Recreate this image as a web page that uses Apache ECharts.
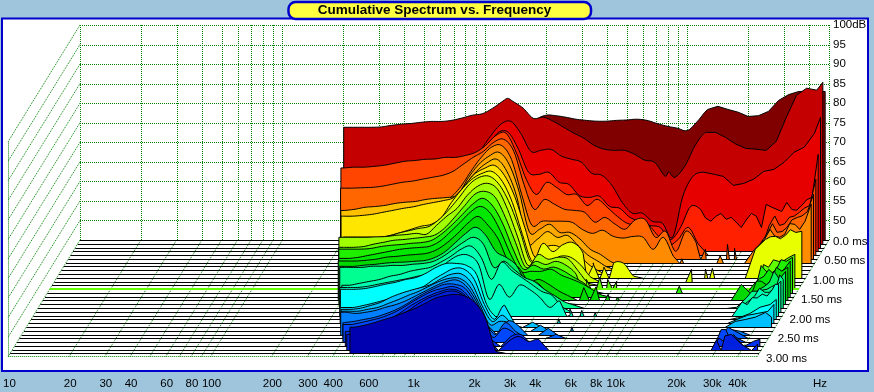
<!DOCTYPE html>
<html><head><meta charset="utf-8">
<style>html,body{margin:0;padding:0;background:#9FC5DC}#c{width:874px;height:392px}</style>
<script src="https://cdn.jsdelivr.net/npm/echarts@6/dist/echarts.min.js"></script>
</head><body><div id="c"></div>
<script>
const title = 'Cumulative Spectrum vs. Frequency';
const freqTicks = [10,20,30,40,60,80,100,200,300,400,600,1000,2000,3000,4000,6000,8000,10000,20000,30000,40000];
const gridHz = [10,20,30,40,50,60,70,80,90,100,200,300,400,500,600,700,800,900,1000,2000,3000,4000,5000,6000,7000,8000,9000,10000,20000,30000,40000,50000];
const gridDb = [50,55,60,65,70,75,80,85,90,95,100];
const timeSlices = [0,5,10,15,20,25,30];
const timeLabels = ['0.0 ms','0.50 ms','1.00 ms','1.50 ms','2.00 ms','2.50 ms','3.00 ms'];
const hz = [200,224,251,282,316,355,398,447,501,562,631,708,794,891,1000,1122,1259,1413,1585,1778,1995,2239,2512,2818,3162,3548,3981,4467,5012,5623,6310,7079,7943,8913,10000,11220,12589,14125,15849,17783,19953,22387,25119,28184,31623,35481,39811,44668,47863];
const sliceColors = ['#800000','#C40000','#E60000','#FF2000','#FF4500','#FF6600','#FF8C00','#FFA800','#FFC000','#FFE600','#E8FF00','#C8FF00','#A0FF00','#60FF00','#20F000','#00E800','#00D800','#00F060','#00FF90','#00FFB0','#00FFC8','#00FFFF','#00E0FF','#00C0FF','#00A0FF','#0080FF','#0060FF','#0048FF','#0030F0','#0020E0','#0000B0'];
const sliceStartHz = [210,206,230,230,216,221,235,240,240,247,260,270,261,268,275,282,288,298,309,325,326,337,345,358,370,376,396,407,429,448,477];
const s00={1:[70,70,70,70,70,70,70,70,70,70,70,70,70,70,70,70,70,70],19:[75.4,76.9,76.8,76.4,75.9,75.6,75.4,75.4,75.6,75.7,75.9,75.6,74.8,74.1,73.6],34:[73,75.4,78.4,79.2,78.4,77.7,76.6,76.8,77.9,80.7,82.2,83,83,83,83]};
const s01={1:[74.8,74.8,74.8,74.9,75.3,75.6,75.8,76.1,76.3,76.3,76.6,77.2,77.9,78.3,79.7,81.5,81.4,79.7,77.1],20:[77.4,76.3,74.8,73.3,72,70.2,69.2,68.9,68.9,67.9,66.4,65.8,62.3,62],34:[65,70.2,73.5,73.5,72.2,70.5,69.4,69.2,68.9,71.2,77.4,83,84.8,84.3,86.3]};
const s02={2:[64.5,64.5,64.5,64.5,64.5,64.5,66.5,66.5,66.5,66.5,66.5],13:[67.6,69.9,73.5,76.5,77.3,74.2,69.6,69.9,70.1,68.4,67.6,66.8,64,63.5,60.9,56.6,53.8,53.8,51.7,51.2,47.6],34:[58.1,63.2,64.3,63.8,63.2,60.9,61.4,62.5,64.5,65,66.8,69.4,70.7,74.2,78.3]};
const s03={2:[64.7,64.7,64.7,64.7,64.7,64.7,65.5,65.5,65.5,65.5,65.5],13:[66.5,69.3,71.9,75.4,75.4,71.1,65.2,64.7,65.2,62.7,62.1,59.3,58.8,59.1,56.5,56,53.7,52.7,51.6,51.1,48],34:[51.1,56.5,55.7,52.7,54.7,53.7,51.1,54.7,51.1,56.3,55.2,55.7,56.8,58.8,69.8]};
const s04={1:[67.3,67.5,67.5,67.7,68,68.5,69,69.2,69.5,69.6,70,70,70.5,71.3,73.1,75.6,76.2,71.3,64.4],20:[60.5,63.6,62.3,60.5,60.5,57.7,59.3,57.2,54.9,53.1,52.8,52.8,50,47.5],34:[49,52.1,47.8],43:[52.6,52.6,54.7,56,57.7,64.4]};
const s05={1:[63.1,63.1,63.2,63.3,63.6,64.1,64.6,64.9,65.4,65.9,66.4,67.4,69.2,71,72.5,74.8,75.6,72.5,64.1],20:[57.7,60.2,59,57.7,57.4,56.9,54.4,55.6,53.9,52.6,55,55,50.5,52.1],34:[46.9,52.1,49.2],42:[47.5,51.3,51.8,53.1,55.6,57.1,61.5]};
const s06={2:[57.4,57.4,57.4,57.6,58.1,58.7,59.2,59.7,59.9,60.4,61.7,64.5,68.4,71.9,74.5,75,71.4,62.5],20:[54.6,55.6,55.6,55.6,55.3,53.5,52.5,53.3,51.8,51.3,51.7,51.5,48.4,51.5],34:[46.6],42:[48.4,51,51.8,52.3,54.8,55.6,60]};
const s07={2:[58.4,58.4,58.4,58.4,58.4,58.4,58.4,58.9,59.1,59.6,60.9,63.5,67.8,71.1,73.2,74.2,71.1,64],20:[53.8,54.5,55.8,53.7,53.7,52,49.4,48.1,46.3]};
const s08={1:[60.3,60.3,60.6,61.1,61.3,61.6,62.1,62.4,62.6,63.1,63.4,63.6,64.1,67.2,70.3,72.4,73.4,70.3,63.6],20:[52.1,52.9,54.9,53.4,53.9,51.4,48.9,47.3,45.7]};
const s09={2:[59.8,59.8,60,60.3,60.8,61.3,61.8,62.2,62.8,63.3,63.8,64.6,67.4,70.5,72,72.8,70.2,64.9],20:[57,49.3,51.8,52.3,51.3,51.3,48.2,46.2]};
const s10={3:[55.4,55.4,55.4,55.4,55.9,56.6,57.4,58.2,58.7,60.4,64.3,67.6,70.2,71.7,72.2,69.7,64.3],20:[56.1,49.2,53.8,51.7,53.5,54,51.2,48.2,47.2,48.7,48.7,45.4],43:[52.3,54.8,55.6,55.9,56.6,56.9]};
const s11={3:[56.3,56.3,56.3,56.3,56.6,57.4,58,58.6,59.1,60.9,63.5,66.6,69.9,71.7,71.9,69.6,64.8],20:[57.9,50.2,51.2,50.2,51.5,51.2,49.2,46.1]};
const s12={3:[57.3,57.3,57.3,57.4,57.5,57.8,58,58.3,58.1,60.4,62.7,64.7,68,70.3,71.1,69.6,64.4],20:[57.3,50.1,52.9,51.7,52.2,51.7,48.6,45.5]};
const s13={3:[55.7,55.7,55.9,56.5,57,57.5,57.7,58,58.3,58.8,60.6,63.4,66.4,69.3,70,68.5,63.4],20:[57,50.6,52.1,51.3,52.1,51.1,48.8,46.2],45:[50.6,52.1,53.1,53.9]};
const s14={4:[56.2,56.2,56.4,56.9,57.2,57.4,57.7,57.9,58.5,60.2,62.5,65.1,67.7,69.2,67.2,62.6],20:[56.2,51.1,52.1,51.1,51.6,50.6,49,47.5,45.4],44:[46.7,50.5,51,53.1,54.1]};
const s15={4:[54.8,55.1,55.6,56.1,56.6,57.1,57.4,57.6,57.9,59.2,61.5,64,66.6,68.1,66.3,61.7],20:[55.8,51.5,51.5,51.5,52,50.5,49.5,48.4,46.9,45.4],44:[48.2,50.2,50.7,52,54.1]};
const s16={4:[55.1,55.1,55.3,55.6,56.1,56.3,56.6,56.8,57.1,58.1,59.9,62.2,64.8,66.5,64.2,60.7],20:[55,53.5,49.9,50.4,49.1,47.4,46.1],43:[49.1,46.6,49.9,50.4,52.5,53.5]};
const s17={4:[54.7,54.7,55,55.2,55.5,55.7,55.8,56,56.2,57,58.5,60.8,63.1,64.7,62.6,58.5],20:[57,55,50.6,50.6,48.3,46.8,45.2],44:[46.3,48.8,50.6,51.4,53.4]};
const s18={4:[55.4,55.4,55.4,55.7,55.7,55.9,55.9,56.2,56.4,56.9,58.2,60,61.8,63.1,61.3,55.4],20:[57,54.9,52.9,51.8,49.8,48.2,46.6,45.7],43:[45.2,47.7,49.3,49.8,51.1,52.3]};
const s19={5:[51.8,52.3,52.8,53.3,54.1,54.6,55.4,55.9,56.4,57.7,59.2,61,61.8,58.9,53.3],20:[57.7,55.6,53.8,52,50.2,49.2,46.2],44:[46.9,49,50,51.3,52.8]};
const s20={5:[52.2,52.2,52.5,53,53.5,54,54.5,55.1,55.6,56.8,58.9,60.4,60.4,57.9,49.2],20:[53,49.7,52.8,51.7,49.7,47.1,48.7,45.1],44:[48.5,49.6,50.5,51.7,53]};
const s21={5:[52.7,52.7,52.9,53.4,54,54.5,55.2,55.7,56.8,58.3,59.3,59.3,58.8,56.5,48.8,45.5],44:[45.5,46.5,48.1,48.8,50.1]};
const s22={6:[49,49.5,50.1,50.8,51.6,52.6,53.4,54.4,56.2,57.7,59,58.8,56.2,49.8,46,49.6],44:[46,47,47.5,48,49.8]};
const s23={6:[49.5,49.8,50.5,51.3,52.6,53.6,54.4,55.1,55.9,57.4,58.5,58.5,56.1,50.5,46.4,48,45.7,45,46.2],44:[46.4,46.9,47.5,48.7,47.5]};
const s24={6:[50,50,50.5,51,52,53,54.1,55.1,56.4,57.6,58.4,58.4,56.4,51.7,46.6,47.4,46.9,45,45,46.4]};
const s25={6:[50.7,50.4,50.7,51.2,52,52.7,53.7,55,56.3,57.6,58.6,58.9,57.1,53,47.4,45,48.4,47.4,45,45,46.6],44:[46.3,45.8]};
const s26={6:[49,49.3,49.8,50.3,51.1,52.1,53.4,55,56.5,57.8,58.8,58.8,57.8,54.2,49.3,46,49,46.8,45,45,45,46],44:[47.8,46.4]};
const s27={7:[49.5,50,50.6,51.3,52.3,53.6,55.2,56.7,58,58.7,59.2,58.2,55.2,50.8,46.2,48.5,47.5],44:[48.2,46.2]};
const s28={7:[48.7,49.2,49.7,50.5,51.8,53.3,55.1,56.6,57.9,58.9,59.5,58.9,56.4,51.8,46.7,45,47.4,47.9,45.6],44:[46.2,47.9,45,46.2,46.7]};
const s29={7:[48.7,48.9,49.4,50.2,51.5,53.3,54.8,56.6,58.1,59.1,59.9,59.7,57.6,53.5,47.6,45,47.1,48.4,47.1,47.6,45],45:[48.9,46.4,45,46.4]};
const s30={8:[51.7,52.2,52.9,53.7,54.5,55.5,56.5,57.8,59.1,59.8,60.1,59.6,57.8,53.7,45.5]};
const sliceData = [s00,s01,s02,s03,s04,s05,s06,s07,s08,s09,s10,s11,s12,s13,s14,s15,s16,s17,s18,s19,s20,s21,s22,s23,s24,s25,s26,s27,s28,s29,s30];
// isolated peaks rising from a slice's floor: [slice, Hz, dB]
const spikes = [[5,14000,47.5],[5,18000,48.7],[5,19500,47.7],[6,17000,46.8],[6,11000,46],[10,16000,47.2],[10,17300,47.4],[10,4470,48.5],[10,5060,47.6],[11,14000,48.1],[13,4470,47.5],[13,5200,48],[13,5700,47.5],[13,6300,47],[14,13200,46.7],[16,4700,48.3],[16,5400,48.5],[16,6200,46.6],[16,6900,45.9],[20,4470,46.7],[20,5100,46.3],[20,5950,45.8],[22,4150,45.9],[24,5060,46]];
// extra readings between the shared frequencies: [slice, Hz, dB]
const ripples = [[1,1330,82.2],[1,8300,63.4],[3,13300,53.5],[3,15000,54],[3,16800,53.2],[3,18800,52.5],[3,21100,53],[3,23700,54],[3,26500,57],[3,33500,57.5],[3,37500,55.5],[3,42000,58.2],[4,30000,55],[4,33500,53],[4,37500,55],[4,42000,57],[5,27000,50],[5,30000,54],[5,33500,52],[5,37500,55],[5,42000,56],[6,30000,53.5],[6,33500,51.5],[6,37500,55],[6,42000,53.5],[10,33500,55.5],[10,37500,55],[10,42000,57.3],[13,33500,51.3],[13,37500,52.5],[13,42000,52.2],[14,33500,52],[14,37500,50],[14,42000,53.5],[15,33500,49.5],[15,37500,52],[15,42000,51],[16,33500,50],[16,37500,49],[16,42000,53.5],[17,37500,49.5],[17,42000,53.5],[18,33500,49.3],[18,42000,50.5],[18,46000,53.5],[19,37500,51],[19,42000,50],[20,33500,47.8],[20,37500,49.5],[20,42000,50],[20,46000,53],[27,30000,48.2],[27,33000,46],[28,30000,47],[28,33500,46],[29,30000,47.5],[29,33000,48.5]];

const DX = 2.33, DY = 3.78, FRAME = 30.8;
const font = 'Liberation Sans, Arial, sans-serif';
function pr(api, f, db, i){ const p = api.coord([f, db]); return [p[0]-DX*i, p[1]+DY*i]; }
function crisp(v){ return Math.round(v)+0.5; }
function slicePoints(i){
  const run = sliceData[i], pts = [];
  const keys = Object.keys(run).map(Number);
  const vals = {};
  keys.forEach(k => run[k].forEach((v,j) => { vals[k+j] = v; }));
  const first = Math.min(...keys);
  for (let k = first; k < hz.length; k++) pts.push([hz[k], vals[k] === undefined ? 45 : Math.max(vals[k],45)]);
  spikes.filter(s => s[0]===i).forEach(s => {
    const w = 1 + 0.022*(s[2]-45);
    pts.push([s[1]/w,45],[s[1],s[2]],[s[1]*w,45]);
  });
  ripples.filter(s => s[0]===i).forEach(s => pts.push([s[1],s[2]]));
  pts.sort((a,b)=>a[0]-b[0]);
  const kept = pts.filter(p => p[0] >= sliceStartHz[i]);
  kept.unshift([sliceStartHz[i], kept[0][1]]);
  return kept;
}
// curve through the readings below 13 kHz, where the slices are smooth; straight above
function drawContour(pts, raw, fy){
  const out = [pts[0]];
  for (let j = 0; j < pts.length-1; j++){
    const p1 = pts[j], p2 = pts[j+1];
    const curved = j > 0 && raw[j][1] > 45 && raw[j+1][1] > 45 && raw[j+1][0] < 13000 && j+2 < pts.length;
    if (curved){
      const p0 = pts[j-1], p3 = pts[j+2];
      for (let s = 1; s < 6; s++){
        const t = s/6, t2 = t*t, t3 = t2*t;
        const cr = d => 0.5*(2*p1[d] + (p2[d]-p0[d])*t + (2*p0[d]-5*p1[d]+4*p2[d]-p3[d])*t2 + (3*p1[d]-p0[d]-3*p2[d]+p3[d])*t3);
        out.push([cr(0), Math.min(cr(1), fy)]);
      }
    }
    out.push(p2);
  }
  return out;
}
const dotted = {stroke:'#008000', lineWidth:1, lineDash:[1,1], fill:null};
function seg(a,b,style){ return {type:'line', shape:{x1:a[0],y1:a[1],x2:b[0],y2:b[1]}, style:style||dotted, silent:true}; }

function renderFrame(params, api){
  const ch = [];
  gridHz.forEach(f => {
    const top = api.coord([f,100]), bot = api.coord([f,45]);
    ch.push(seg([crisp(top[0]),top[1]],[crisp(bot[0]),bot[1]]));
    ch.push(seg(pr(api,f,45,0), pr(api,f,45,FRAME)));
  });
  gridDb.forEach(db => {
    const a = api.coord([10,db]), b = api.coord([50000,db]);
    ch.push(seg([a[0],crisp(a[1])],[b[0],crisp(b[1])]));
    ch.push(seg(pr(api,10,db,0), pr(api,10,db,FRAME)));
  });
  const tl = pr(api,10,100,FRAME), bl = pr(api,10,45,FRAME), br = pr(api,50000,45,FRAME);
  ch.push(seg([crisp(tl[0]),tl[1]],[crisp(bl[0]),bl[1]]));
  ch.push(seg([bl[0],crisp(bl[1])],[br[0],crisp(br[1])]));
  return {type:'group', children:ch};
}
function renderTimeLabel(params, api){
  const idx = api.value(2), i = timeSlices[idx];
  const p = api.coord([50000,45]);
  return {type:'text', silent:true, style:{x:p[0]-DX*i+(i===0?4:7), y:p[1]+3.9*i+1.5, text:timeLabels[idx], fill:'#000', font:'11.5px '+font, verticalAlign:'middle', align:'left'}};
}
function renderSlice(params, api){
  const i = api.value(2);
  const floorL = pr(api,10,45,i), floorR = pr(api,50000,45,i);
  const highlight = i === 13;
  const fy = highlight ? Math.round(floorL[1]) : crisp(floorL[1]);
  const raw = slicePoints(i);
  const screen = raw.map(p => {
    const q = pr(api,p[0],p[1],i);
    return [q[0], p[1] <= 45 ? fy : q[1]];
  });
  const pts = drawContour(screen, raw, fy);
  const first = pts[0], last = pts[pts.length-1];
  const outline = [[first[0],fy]].concat(pts,[[last[0],fy]]);
  return {type:'group', children:[
    {type:'polygon', silent:true, shape:{points:outline}, style:{fill:sliceColors[i], stroke:null}},
    {type:'polyline', silent:true, shape:{points:outline}, style:{stroke:'#000', lineWidth:1, fill:null}},
    seg([floorL[0],fy],[floorR[0],fy],{stroke: highlight ? '#66FF00' : '#000', lineWidth: highlight ? 2 : 1})
  ]};
}

const chart = echarts.init(document.getElementById('c'), null, {renderer:'canvas'});
chart.setOption({
  animation:false,
  backgroundColor:'#9FC5DC',
  textStyle:{fontFamily:font},
  grid:[
    {left:80, top:25, width:749, height:215, containLabel:false},
    {left:8, top:357, width:749, height:1, containLabel:false}
  ],
  xAxis:[
    {type:'log', gridIndex:0, min:10, max:50000, show:true, axisLine:{show:false}, axisTick:{show:false}, axisLabel:{show:false}, splitLine:{show:false}, minorSplitLine:{show:false}},
    {type:'log', gridIndex:1, min:10, max:50000, position:'bottom', axisLine:{show:false}, axisTick:{show:false}, splitLine:{show:false},
     axisLabel:{show:true, customValues:freqTicks, margin:20, hideOverlap:false, color:'#000', fontFamily:font, fontSize:11.5,
       showMinLabel:true, showMaxLabel:true,
       formatter:v => { const n = Math.round(v); return n >= 1000 ? (n/1000)+'k' : String(n); }}}
  ],
  yAxis:[
    {type:'value', gridIndex:0, min:45, max:100, interval:5, position:'right', axisLine:{show:false}, axisTick:{show:false},
     splitLine:{show:false},
     axisLabel:{margin:4, color:'#000', fontFamily:font, fontSize:11.5, formatter:v => v===45 ? '' : (v===100 ? '100dB' : String(v))}},
    {type:'value', gridIndex:1, min:0, max:1, show:false}
  ],
  graphic:[
    {type:'rect', z:-1, silent:true, shape:{x:2,y:18.5,width:866,height:352.5}, style:{fill:'#fff', stroke:'#0000CC', lineWidth:2}},
    {type:'rect', z:10, silent:true, shape:{x:288.5,y:2,width:302.5,height:17,r:7}, style:{fill:'#FFFF40', stroke:'#0000CC', lineWidth:2.5}},
    {type:'text', z:11, silent:true, style:{x:434.5,y:10.5, text:title, fill:'#000', font:'bold 13.5px '+font, align:'center', verticalAlign:'middle'}},
    {type:'text', z:11, silent:true, style:{x:820,y:383.5, text:'Hz', fill:'#000', font:'11.5px '+font, align:'center', verticalAlign:'middle'}}
  ],
  series:[
    {type:'custom', name:'frame', xAxisIndex:0, yAxisIndex:0, z:1, silent:true, clip:false, renderItem:renderFrame, data:[[10,45,0]], encode:{x:0,y:1}},
    {type:'custom', name:'slices', xAxisIndex:0, yAxisIndex:0, z:3, silent:true, clip:false, renderItem:renderSlice, data:sliceData.map((_,i)=>[100,50,i]), encode:{x:0,y:1}},
    {type:'custom', name:'time', xAxisIndex:0, yAxisIndex:0, z:4, silent:true, clip:false, renderItem:renderTimeLabel, data:timeLabels.map((_,i)=>[100,50,i]), encode:{x:0,y:1}}
  ]
});
</script></body></html>
